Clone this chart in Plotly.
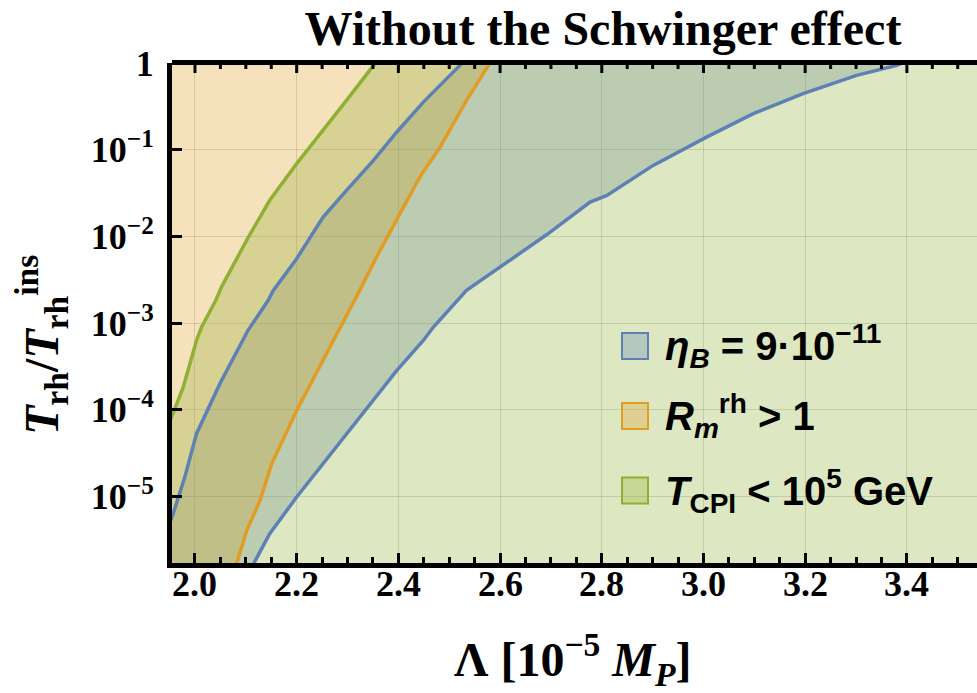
import plotly.graph_objects as go

# Boundary curves: Lambda [1e-5 M_P] vs T_rh / T_rh^ins
green_x = [1.945, 1.957, 1.977, 2.003, 2.013, 2.041, 2.052, 2.105, 2.147, 2.200, 2.252, 2.298, 2.351, 2.365]
green_y = [6.0e-5, 9.0e-5, 1.83e-4, 6.3e-4, 9.0e-4, 1.83e-3, 2.6e-3, 9.82e-3, 0.0261, 0.069, 0.167, 0.371, 0.938, 1.25]

blue_up_x = [1.945, 1.957, 1.980, 2.003, 2.049, 2.104, 2.144, 2.154, 2.200, 2.252, 2.298, 2.351, 2.397, 2.449, 2.521, 2.540]
blue_up_y = [4.0e-6, 6.3e-6, 1.67e-5, 5.3e-5, 2.0e-4, 8.2e-4, 1.83e-3, 2.38e-3, 5.53e-3, 0.0167, 0.034, 0.0753, 0.160, 0.354, 0.938, 1.25]

blue_lo_x = [2.095, 2.115, 2.147, 2.200, 2.252, 2.298, 2.344, 2.397, 2.449, 2.469, 2.534, 2.594, 2.645,
             2.692, 2.777, 2.810, 2.901, 3.006, 3.098, 3.196, 3.301, 3.380, 3.420]
blue_lo_y = [1.0e-6, 1.68e-6, 3.72e-6, 9.84e-6, 2.39e-5, 5.3e-5, 1.17e-4, 2.84e-4, 6.3e-4, 9.0e-4, 2.38e-3, 4.2e-3, 6.8e-3,
             1.05e-2, 0.0249, 0.0297, 0.0659, 0.1396, 0.260, 0.443, 0.719, 0.938, 1.2]

orange_x = [2.070, 2.082, 2.102, 2.128, 2.151, 2.200, 2.252, 2.288, 2.315, 2.324, 2.357, 2.403, 2.442, 2.482, 2.534, 2.577, 2.590]
orange_y = [1.0e-6, 1.68e-6, 4.07e-6, 9.0e-6, 2.39e-5, 9.8e-5, 3.72e-4, 9.4e-4, 1.83e-3, 2.38e-3, 5.77e-3, 0.0183, 0.0483, 0.107, 0.371, 0.938, 1.25]

x_ticks = [2.0, 2.2, 2.4, 2.6, 2.8, 3.0, 3.2, 3.4]
x_labels = ["2.0", "2.2", "2.4", "2.6", "2.8", "3.0", "3.2", "3.4"]
y_ticks = [1e-5, 1e-4, 1e-3, 1e-2, 1e-1, 1]
y_labels = ["10<sup>\u22125</sup>", "10<sup>\u22124</sup>", "10<sup>\u22123</sup>",
            "10<sup>\u22122</sup>", "10<sup>\u22121</sup>", "1"]

legend_labels = ["<i>\u03b7<sub>B</sub></i> = 9\u00b710<sup>\u221211</sup>",
                 "<i>R<sub>m</sub></i><sup>rh</sup> > 1",
                 "<i>T</i><sub>CPI</sub> < 10<sup>5</sup> GeV"]

BLUE = (94, 129, 181)
ORANGE = (225, 156, 36)
GREEN = (143, 176, 50)
ALPHA = 0.3

def rgba(c, a=1.0):
    return f"rgba({c[0]},{c[1]},{c[2]},{a})"

# far-out bounds used to close the regions outside the visible window
XL, XR, YB, YT = 1.90, 3.70, 1e-7, 1.3
X_RANGE = [1.9548, 3.5379]
Y_RANGE = [-5.768, 0.0]
MINOR_STEP = 0.05

blue_poly_x = [XL] + blue_up_x + blue_lo_x[::-1] + [XL]
blue_poly_y = [YB] + blue_up_y + blue_lo_y[::-1] + [YB]

orange_poly_x = orange_x + [XL, XL, orange_x[0]]
orange_poly_y = orange_y + [YT, YB, YB]

green_poly_x = green_x + [XR, XR, XL, XL]
green_poly_y = green_y + [YT, YB, YB, green_y[0]]

fig = go.Figure()
for px_, py_, col in [(blue_poly_x, blue_poly_y, BLUE),
                      (orange_poly_x, orange_poly_y, ORANGE),
                      (green_poly_x, green_poly_y, GREEN)]:
    fig.add_trace(go.Scatter(x=px_, y=py_, mode="lines", fill="toself",
                             fillcolor=rgba(col, ALPHA), line=dict(width=0),
                             hoverinfo="skip", showlegend=False))

for cx, cy, col in [(blue_up_x, blue_up_y, BLUE), (blue_lo_x, blue_lo_y, BLUE),
                    (orange_x, orange_y, ORANGE), (green_x, green_y, GREEN)]:
    fig.add_trace(go.Scatter(x=cx, y=cy, mode="lines", line=dict(color=rgba(col), width=3.5),
                             hoverinfo="skip", showlegend=False))

# plot-area geometry in pixels
W, H = 977, 693
L, R, T, B = 172, 0, 63, 130
PW, PH = W - L - R, H - T - B

def paper_x(px):
    return (px - L) / PW

def paper_y(py):
    return (H - B - py) / PH

tick_font = dict(family="Liberation Serif", size=36, color="black", weight="bold")
grid_col = "rgba(0,0,0,0.15)"
frame = dict(ticks="inside", ticklen=10, tickwidth=3, tickcolor="black",
             showline=True, linewidth=5, linecolor="black", zeroline=False)

fig.update_layout(
    width=W, height=H,
    margin=dict(l=L, r=R, t=T, b=B),
    paper_bgcolor="white", plot_bgcolor="white",
    showlegend=False,
    title=dict(text="Without the Schwinger effect",
               font=dict(family="Liberation Serif", size=48, color="black", weight="bold"),
               x=603 / W, xref="container", xanchor="center",
               y=1 - 28 / H, yref="container", yanchor="middle"),
    xaxis=dict(range=X_RANGE, tickmode="array", tickvals=x_ticks, ticktext=x_labels,
               showticklabels=False, showgrid=True, gridcolor=grid_col, gridwidth=1.2,
               minor=dict(tick0=2.0, dtick=MINOR_STEP, ticks="inside", ticklen=6, tickwidth=3,
                          tickcolor="black", showgrid=False),
               **frame),
    yaxis=dict(type="log", range=Y_RANGE, tickmode="array", tickvals=y_ticks, ticktext=y_labels,
               showgrid=True, gridcolor=grid_col, gridwidth=1.2,
               tickfont=tick_font, ticklabelstandoff=6, **frame),
)

# x tick labels
for xv, lab in zip(x_ticks, x_labels):
    fig.add_annotation(text=lab, x=xv, y=paper_y(584), xref="x", yref="paper",
                       xanchor="center", yanchor="middle", showarrow=False, font=tick_font)

# top frame line with mirrored major and minor ticks
fig.add_shape(type="line", xref="paper", yref="paper", x0=0, x1=1,
              y0=1 + 0.5 / PH, y1=1 + 0.5 / PH, line=dict(color="black", width=5), layer="above")
n_minor = int((X_RANGE[1] - 1.95) / MINOR_STEP) + 1
minor_top = [round(1.95 + MINOR_STEP * k, 2) for k in range(n_minor)]
for xv in minor_top:
    major = any(abs(xv - t) < 1e-6 for t in x_ticks)
    ln = 10 if major else 6
    if X_RANGE[0] <= xv <= X_RANGE[1]:
        fig.add_shape(type="line", xref="x", yref="paper", x0=xv, x1=xv,
                      y0=1, y1=1 - ln / PH, line=dict(color="black", width=3), layer="above")

# axis titles
fig.add_annotation(text="\u039b [10<sup>\u22125</sup> <i>M<sub>P</sub></i>]",
                   x=paper_x(573), y=paper_y(659), xref="paper", yref="paper",
                   xanchor="center", yanchor="middle", showarrow=False,
                   font=dict(family="Liberation Serif", size=48, color="black", weight="bold"))
fig.add_annotation(text="<i>T</i><sub>rh</sub>/<i>T</i><sub>rh</sub><sup>ins</sup>",
                   x=paper_x(41), y=paper_y(345), xref="paper", yref="paper",
                   xanchor="center", yanchor="middle", textangle=-90, showarrow=False,
                   font=dict(family="Liberation Serif", size=48, color="black", weight="bold"))

# swatch legend
sw_left, sw_size, text_left = 622, 26, 663
sw_centers = [346, 416, 490.5]
for label, col, cy in zip(legend_labels, [BLUE, ORANGE, GREEN], sw_centers):
    fig.add_shape(type="rect", xref="paper", yref="paper",
                  x0=paper_x(sw_left), x1=paper_x(sw_left + sw_size),
                  y0=paper_y(cy + sw_size / 2), y1=paper_y(cy - sw_size / 2),
                  line=dict(color=rgba(col), width=2), fillcolor=rgba(col, ALPHA), layer="above")
    fig.add_annotation(text=label, x=paper_x(text_left), y=paper_y(cy), xref="paper", yref="paper",
                       xanchor="left", yanchor="middle", showarrow=False,
                       font=dict(family="Liberation Sans", size=40, color="black", weight="bold"))

fig.write_html("out.html")
